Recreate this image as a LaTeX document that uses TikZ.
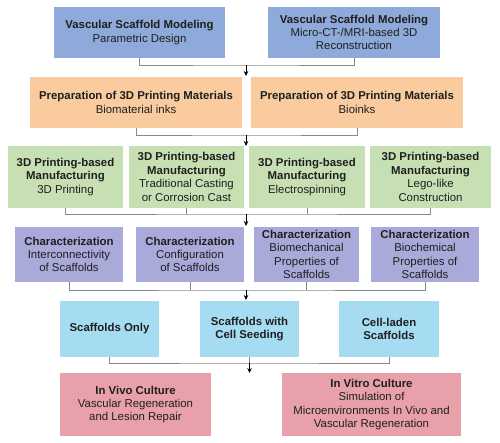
\documentclass[tikz,border=0pt]{standalone}
\usepackage{fontspec}
\setmainfont{Liberation Sans}
\usetikzlibrary{arrows.meta}
\definecolor{cA}{HTML}{8EAADB}
\definecolor{cB}{HTML}{F9CB9F}
\definecolor{cC}{HTML}{C6E0B4}
\definecolor{cD}{HTML}{A9A9DA}
\definecolor{cE}{HTML}{A6DCF1}
\definecolor{cF}{HTML}{E8A1AA}
\definecolor{txt}{HTML}{1F1F1F}
\definecolor{lin}{HTML}{8A8A8A}
\tikzset{
  box/.style={draw=none, inner sep=0pt, align=center, text=txt,
    font=\fontsize{11.4}{13.4}\selectfont},
  conn/.style={draw=lin, line width=0.9pt},
  arr/.style={draw=black, line width=0.8pt, -{Stealth[length=5pt,width=4.5pt]}}
}
\begin{document}
\begin{tikzpicture}[x=1pt,y=-1pt]
\useasboundingbox (0,0) rectangle (500,443);
\fill[white] (0,0) rectangle (500,443);
% Row 1
\node[box, fill=cA, minimum width=171pt, minimum height=51pt] (A1) at (139.5,32.5) {\textbf{Vascular Scaffold Modeling}\\Parametric Design};
\node[box, fill=cA, minimum width=172pt, minimum height=51pt] (A2) at (354,32.5) {\textbf{Vascular Scaffold Modeling}\\Micro-CT-/MRI-based 3D\\Reconstruction};
% Row 2
\node[box, fill=cB, minimum width=212pt, minimum height=51pt] (B1) at (136,102.5) {\textbf{Preparation of 3D Printing Materials}\\Biomaterial inks};
\node[box, fill=cB, minimum width=212pt, minimum height=51pt] (B2) at (357,102.5) {\textbf{Preparation of 3D Printing Materials}\\Bioinks};
% Row 3
\node[box, fill=cC, minimum width=115pt, minimum height=62pt] (C1) at (65.5,177) {\textbf{3D Printing-based}\\\textbf{Manufacturing}\\3D Printing};
\node[box, fill=cC, minimum width=115pt, minimum height=62pt] (C2) at (186.5,177) {\textbf{3D Printing-based}\\\textbf{Manufacturing}\\Traditional Casting\\or Corrosion Cast};
\node[box, fill=cC, minimum width=116pt, minimum height=62pt] (C3) at (307,177) {\textbf{3D Printing-based}\\\textbf{Manufacturing}\\Electrospinning};
\node[box, fill=cC, minimum width=121pt, minimum height=62pt] (C4) at (430.5,177) {\textbf{3D Printing-based}\\\textbf{Manufacturing}\\Lego-like\\Construction};
% Row 4
\node[box, fill=cD, minimum width=108pt, minimum height=55pt] (D1) at (69,254.5) {\textbf{Characterization}\\Interconnectivity\\of Scaffolds};
\node[box, fill=cD, minimum width=108pt, minimum height=55pt] (D2) at (190,254.5) {\textbf{Characterization}\\Configuration\\of Scaffolds};
\node[box, fill=cD, minimum width=105pt, minimum height=55pt] (D3) at (306.5,254.5) {\textbf{Characterization}\\Biomechanical\\Properties of\\Scaffolds};
\node[box, fill=cD, minimum width=108pt, minimum height=55pt] (D4) at (425,254.5) {\textbf{Characterization}\\Biochemical\\Properties of\\Scaffolds};
% Row 5
\node[box, fill=cE, minimum width=99pt, minimum height=56pt] (E1) at (109.5,329) {\textbf{Scaffolds Only}};
\node[box, fill=cE, minimum width=99pt, minimum height=56pt] (E2) at (249.5,329) {\textbf{Scaffolds with}\\\textbf{Cell Seeding}};
\node[box, fill=cE, minimum width=100pt, minimum height=56pt] (E3) at (389,329) {\textbf{Cell-laden}\\\textbf{Scaffolds}};
% Row 6
\node[box, fill=cF, minimum width=151pt, minimum height=63pt] (F1) at (135.5,404.5) {\textbf{In Vivo Culture}\\Vascular Regeneration\\and Lesion Repair};
\node[box, fill=cF, minimum width=179pt, minimum height=63pt] (F2) at (371.5,404.5) {\textbf{In Vitro Culture}\\Simulation of\\Microenvironments In Vivo and\\Vascular Regeneration};
% junctions
\coordinate (j1) at (246,65);  \coordinate (t1) at (246,76);
\coordinate (j2) at (246,135); \coordinate (t2) at (246,146);
\coordinate (j3) at (246,214); \coordinate (t3) at (246,226);
\coordinate (j4) at (246,290); \coordinate (t4) at (246,300);
\coordinate (j5) at (249.5,363); \coordinate (t5) at (249.5,373);
% connectors
\draw[conn] (A1.south) |- (j1) -| (A2.south);
\draw[arr] (j1) -- (t1);
\draw[conn] (B1.south) |- (j2) -| (B2.south);
\draw[arr] (j2) -- (t2);
\draw[conn] (C1.south) |- (j3) -| (C4.south);
\draw[conn] (C2.south) -- (C2.south |- j3);
\draw[conn] (C3.south) -- (C3.south |- j3);
\draw[arr] (j3) -- (t3);
\draw[conn] (D1.south) |- (j4) -| (D4.south);
\draw[conn] (D2.south) -- (D2.south |- j4);
\draw[conn] (D3.south) -- (D3.south |- j4);
\draw[arr] (j4) -- (t4);
\draw[conn] (E1.south) |- (j5) -| (E3.south);
\draw[conn] (E2.south) -- (j5);
\draw[arr] (j5) -- (t5);
\end{tikzpicture}
\end{document}
